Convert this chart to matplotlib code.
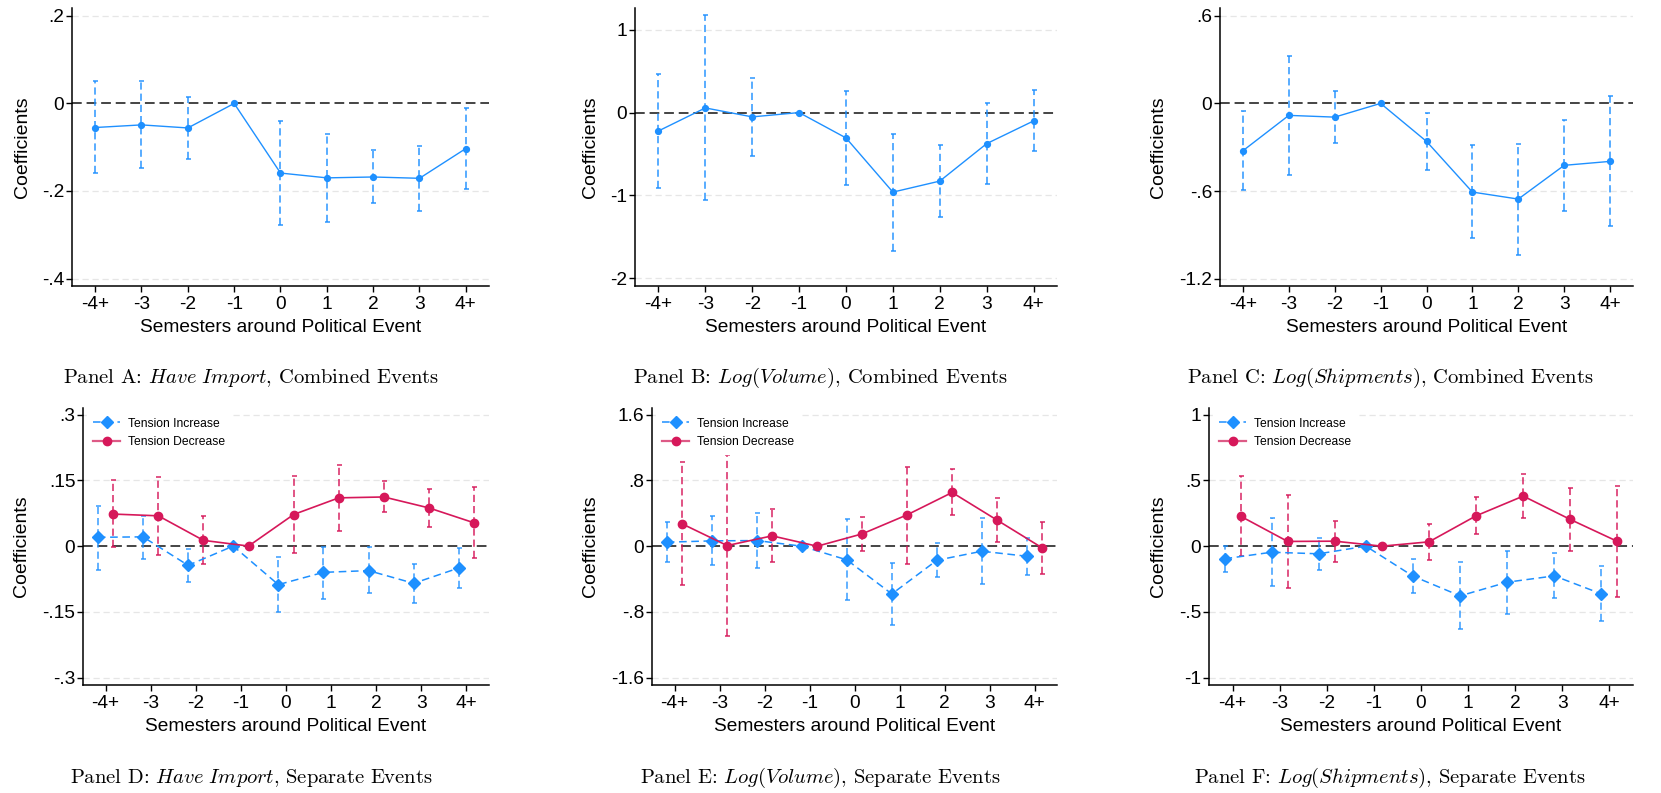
import numpy as np
import matplotlib
matplotlib.use("Agg")
import matplotlib.pyplot as plt
from matplotlib.lines import Line2D

plt.rcParams['font.family'] = ['Liberation Sans', 'DejaVu Sans']
plt.rcParams['mathtext.fontset'] = 'cm'

# ---------------- data ----------------
cats = ["-4+", "-3", "-2", "-1", "0", "1", "2", "3", "4+"]

# Panel A: Have Import, combined
A_coef = [-0.055, -0.049, -0.056, 0.0, -0.159, -0.170, -0.168, -0.171, -0.103]
A_lo = [-0.160, -0.148, -0.127, 0.0, -0.278, -0.270, -0.228, -0.245, -0.195]
A_hi = [0.051, 0.051, 0.015, 0.0, -0.040, -0.070, -0.107, -0.097, -0.011]

# Panel B: Log(Volume), combined
B_coef = [-0.222, 0.056, -0.052, 0.0, -0.306, -0.960, -0.827, -0.375, -0.101]
B_lo = [-0.911, -1.056, -0.524, 0.0, -0.879, -1.665, -1.258, -0.863, -0.468]
B_hi = [0.464, 1.173, 0.415, 0.0, 0.266, -0.258, -0.395, 0.113, 0.270]

# Panel C: Log(Shipments), combined
C_coef = [-0.324, -0.082, -0.094, 0.0, -0.260, -0.607, -0.655, -0.424, -0.397]
C_lo = [-0.595, -0.488, -0.274, 0.0, -0.456, -0.924, -1.036, -0.735, -0.840]
C_hi = [-0.050, 0.324, 0.084, 0.0, -0.068, -0.287, -0.276, -0.116, 0.048]

# Panel D: Have Import, separate
D_inc = [0.020, 0.021, -0.044, 0.0, -0.088, -0.060, -0.056, -0.085, -0.050]
D_inc_lo = [-0.054, -0.029, -0.082, 0.0, -0.151, -0.120, -0.107, -0.129, -0.095]
D_inc_hi = [0.091, 0.069, -0.007, 0.0, -0.024, -0.002, -0.002, -0.040, -0.005]
D_dec = [0.073, 0.069, 0.013, 0.0, 0.072, 0.110, 0.112, 0.087, 0.053]
D_dec_lo = [-0.003, -0.020, -0.041, 0.0, -0.015, 0.035, 0.078, 0.043, -0.027]
D_dec_hi = [0.151, 0.157, 0.068, 0.0, 0.159, 0.184, 0.148, 0.130, 0.134]

# Panel E: Log(Volume), separate
E_inc = [0.049, 0.065, 0.069, 0.0, -0.166, -0.581, -0.171, -0.061, -0.122]
E_inc_lo = [-0.195, -0.231, -0.268, 0.0, -0.658, -0.962, -0.378, -0.463, -0.345]
E_inc_hi = [0.296, 0.369, 0.402, 0.0, 0.337, -0.207, 0.045, 0.349, 0.102]
E_dec = [0.272, 0.008, 0.126, 0.0, 0.150, 0.382, 0.654, 0.317, -0.020]
E_dec_lo = [-0.467, -1.092, -0.195, 0.0, -0.057, -0.211, 0.382, 0.049, -0.333]
E_dec_hi = [1.019, 1.112, 0.447, 0.0, 0.357, 0.970, 0.934, 0.589, 0.296]

# Panel F: Log(Shipments), separate
F_inc = [-0.096, -0.046, -0.058, 0.0, -0.228, -0.378, -0.274, -0.226, -0.363]
F_inc_lo = [-0.195, -0.302, -0.178, 0.0, -0.358, -0.627, -0.515, -0.396, -0.571]
F_inc_hi = [0.005, 0.213, 0.063, 0.0, -0.099, -0.124, -0.036, -0.051, -0.150]
F_dec = [0.228, 0.036, 0.038, 0.0, 0.033, 0.231, 0.381, 0.203, 0.036]
F_dec_lo = [-0.074, -0.315, -0.122, 0.0, -0.104, 0.091, 0.213, -0.036, -0.383]
F_dec_hi = [0.530, 0.386, 0.195, 0.0, 0.170, 0.371, 0.548, 0.442, 0.454]

yticks_A = [0.2, 0.0, -0.2, -0.4]; ylab_A = [".2", "0", "-.2", "-.4"]
yticks_B = [1, 0, -1, -2]; ylab_B = ["1", "0", "-1", "-2"]
yticks_C = [0.6, 0.0, -0.6, -1.2]; ylab_C = [".6", "0", "-.6", "-1.2"]
yticks_D = [0.3, 0.15, 0.0, -0.15, -0.3]; ylab_D = [".3", ".15", "0", "-.15", "-.3"]
yticks_E = [1.6, 0.8, 0.0, -0.8, -1.6]; ylab_E = ["1.6", ".8", "0", "-.8", "-1.6"]
yticks_F = [1, 0.5, 0, -0.5, -1]; ylab_F = ["1", ".5", "0", "-.5", "-1"]

captions = [
    ("A", "\\mathit{Have\\ Import}", "Combined Events"),
    ("B", "\\mathit{Log(Volume)}", "Combined Events"),
    ("C", "\\mathit{Log(Shipments)}", "Combined Events"),
    ("D", "\\mathit{Have\\ Import}", "Separate Events"),
    ("E", "\\mathit{Log(Volume)}", "Separate Events"),
    ("F", "\\mathit{Log(Shipments)}", "Separate Events"),
]

BLUE = "#1E90FF"
RED = "#D6185A"
W, H = 1661, 793

fig = plt.figure(figsize=(W / 100, H / 100), dpi=100)


def px_axes(x0, x1, y0, y1):
    return fig.add_axes([x0 / W, 1 - y1 / H, (x1 - x0) / W, (y1 - y0) / H])


def style(ax, yticks, ylabs, ylim, ylab_px, x0, x1):
    ax.set_xlim(-0.5, len(cats) - 0.5)
    ax.set_ylim(*ylim)
    ax.set_xticks(range(len(cats)))
    ax.set_xticklabels(cats)
    ax.set_yticks(yticks)
    ax.set_yticklabels(ylabs)
    for s in ("top", "right"):
        ax.spines[s].set_visible(False)
    for s in ("left", "bottom"):
        ax.spines[s].set_linewidth(1.1)
    ax.tick_params(axis="both", direction="out", length=4, width=1.0,
                   labelsize=13.8, color="black")
    ax.tick_params(axis="x", pad=3)
    ax.tick_params(axis="y", pad=1.5)
    for t in yticks:
        if t != 0:
            ax.axhline(t, color="#e6e6e6", lw=0.9, ls=(0, (5, 3)), zorder=0.5)
    ax.axhline(0, color="#444444", lw=1.4, ls=(0, (5, 2.5)), zorder=1.5)
    ax.set_xlabel("Semesters around Political Event", fontsize=13.8)
    ax.set_ylabel("Coefficients", fontsize=14)
    ax.xaxis.set_label_coords(0.5, -0.15)
    ax.xaxis.label.set_verticalalignment("center")
    ax.yaxis.set_label_coords((ylab_px - x0) / (x1 - x0), 0.5)
    ax.yaxis.label.set_verticalalignment("center")


def ci(ax, x, lo, hi, color, alpha=0.75, lw=1.3):
    x = np.asarray(x, float); lo = np.asarray(lo); hi = np.asarray(hi)
    m = hi != lo
    ax.vlines(x[m], lo[m], hi[m], colors=color, alpha=alpha, lw=lw,
              linestyles=[(0, (4, 2.2))], zorder=2)
    ax.plot(x[m], lo[m], ls="none", marker="_", ms=3.6, mew=1.3, color=color,
            alpha=alpha, zorder=2)
    ax.plot(x[m], hi[m], ls="none", marker="_", ms=3.6, mew=1.3, color=color,
            alpha=alpha, zorder=2)


# ---------------- top row ----------------
top_boxes = [(72, 489), (635, 1057), (1220, 1633)]
top_y = (8, 286)
top_data = [(A_coef, A_lo, A_hi, yticks_A, ylab_A, (-0.417, 0.218), 22),
            (B_coef, B_lo, B_hi, yticks_B, ylab_B, (-2.093, 1.262), 590),
            (C_coef, C_lo, C_hi, yticks_C, ylab_C, (-1.25, 0.653), 1158)]
xs = np.arange(len(cats))
for (x0, x1), (coef, lo, hi, yt, yl, lim, ylp) in zip(top_boxes, top_data):
    ax = px_axes(x0, x1, *top_y)
    style(ax, yt, yl, lim, ylp, x0, x1)
    ci(ax, xs, lo, hi, BLUE, alpha=0.8)
    ax.plot(xs, coef, color=BLUE, lw=1.0, marker="o", ms=4.2, zorder=3)

# ---------------- bottom row ----------------
bot_boxes = [(83, 489), (652, 1057), (1209, 1633)]
bot_y = (408, 685)
bot_data = [
    (D_inc, D_inc_lo, D_inc_hi, D_dec, D_dec_lo, D_dec_hi, yticks_D, ylab_D, (-0.317, 0.315), 22),
    (E_inc, E_inc_lo, E_inc_hi, E_dec, E_dec_lo, E_dec_hi, yticks_E, ylab_E, (-1.689, 1.682), 590),
    (F_inc, F_inc_lo, F_inc_hi, F_dec, F_dec_lo, F_dec_hi, yticks_F, ylab_F, (-1.056, 1.051), 1158),
]
off = 0.17
for (x0, x1), (inc, ilo, ihi, dec, dlo, dhi, yt, yl, lim, ylp) in zip(bot_boxes, bot_data):
    ax = px_axes(x0, x1, *bot_y)
    style(ax, yt, yl, lim, ylp, x0, x1)
    ci(ax, xs - off, ilo, ihi, BLUE, alpha=0.75)
    ax.plot(xs - off, inc, color=BLUE, lw=1.1, ls=(0, (5, 3)), marker="D",
            ms=6.0, zorder=3)
    ci(ax, xs + off, dlo, dhi, RED, alpha=0.8)
    ax.plot(xs + off, dec, color=RED, lw=1.2, marker="o", ms=6.0, zorder=3.5)
    handles = [Line2D([], [], color=BLUE, lw=1.1, ls=(0, (5, 3)), marker="D", ms=6.0),
               Line2D([], [], color=RED, lw=1.6, alpha=1, marker="o", ms=6.0)]
    handles[1].set_color("#dd5a86")
    handles[1].set_markerfacecolor(RED); handles[1].set_markeredgecolor(RED)
    leg = ax.legend(handles, ["Tension Increase", "Tension Decrease"],
                    loc="upper left", bbox_to_anchor=(0.0, 1.0), fontsize=8.7,
                    frameon=True, fancybox=False, framealpha=1, edgecolor="white",
                    facecolor="white", handlelength=2.3, handletextpad=0.65,
                    borderpad=0.5, labelspacing=0.55, borderaxespad=0.3)
    leg.set_zorder(5)

# ---------------- captions ----------------
cap_x = [251, 820, 1390, 251, 820, 1390]
cap_y = [378, 378, 378, 778, 778, 778]
for (letter, ital, rest), cx, cy in zip(captions, cap_x, cap_y):
    fig.text(cx / W, 1 - cy / H,
             "Panel " + letter + ": $" + ital + "$, " + rest,
             family="cmr10", fontsize=14.8, ha="center", va="center")

fig.savefig("out.png", dpi=100)
